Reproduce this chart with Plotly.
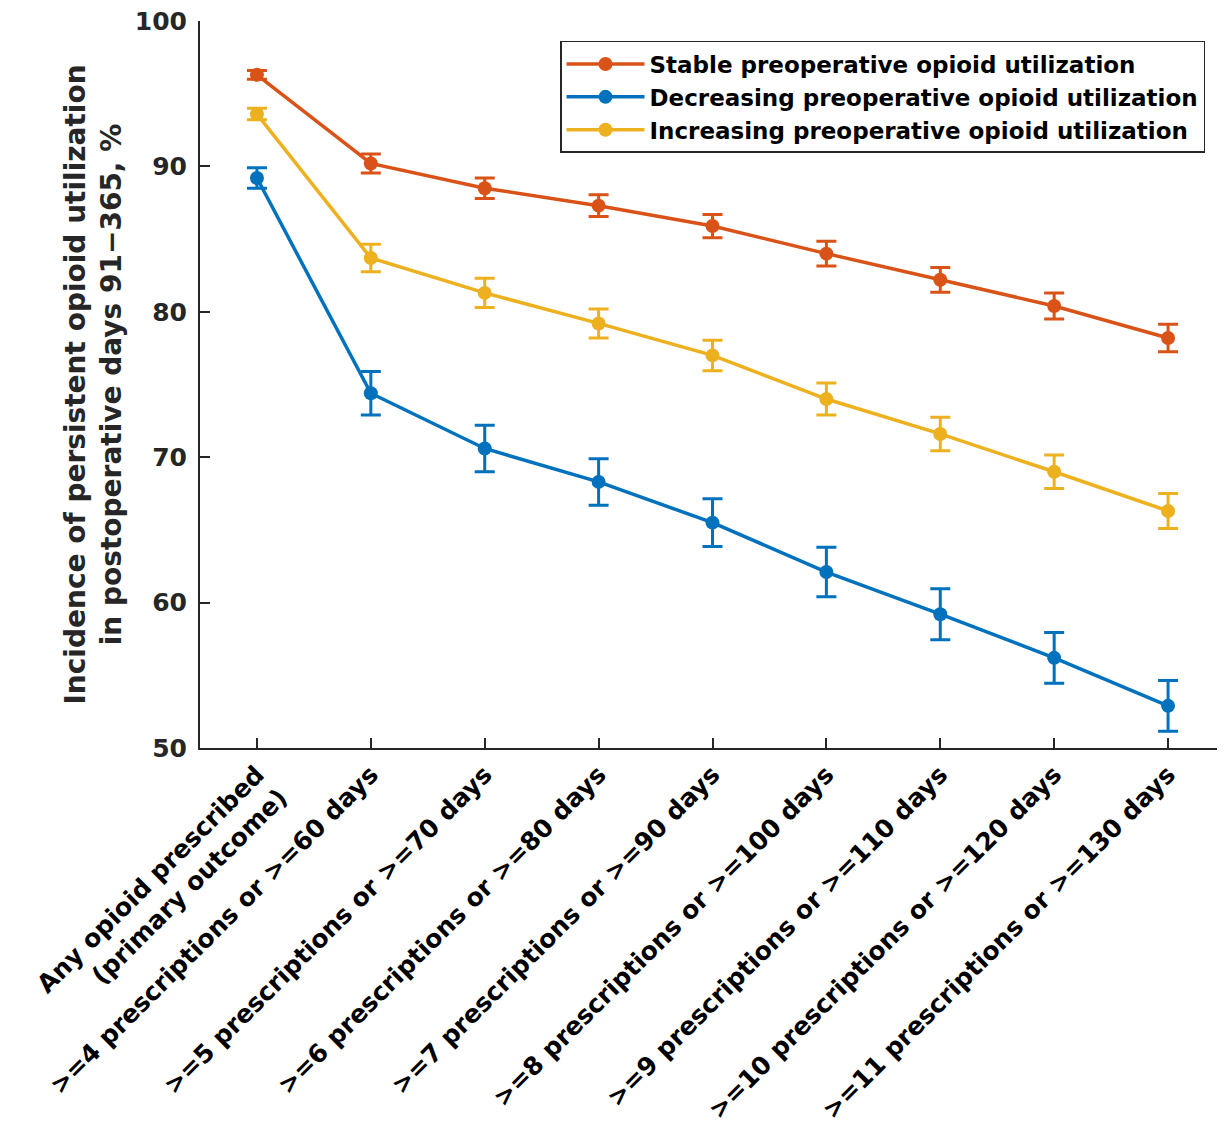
import plotly.graph_objects as go

categories = [
    "Any opioid prescribed<br>(primary outcome)",
    ">=4 prescriptions or >=60 days",
    ">=5 prescriptions or >=70 days",
    ">=6 prescriptions or >=80 days",
    ">=7 prescriptions or >=90 days",
    ">=8 prescriptions or >=100 days",
    ">=9 prescriptions or >=110 days",
    ">=10 prescriptions or >=120 days",
    ">=11 prescriptions or >=130 days",
]

stable = [96.3, 90.2, 88.5, 87.3, 85.9, 84.0, 82.2, 80.4, 78.2]
stable_err = [0.3, 0.65, 0.7, 0.75, 0.8, 0.85, 0.85, 0.9, 0.95]

decreasing = [89.2, 74.4, 70.6, 68.3, 65.5, 62.1, 59.2, 56.2, 52.9]
decreasing_err = [0.7, 1.5, 1.6, 1.6, 1.65, 1.7, 1.75, 1.75, 1.75]

increasing = [93.6, 83.7, 81.3, 79.2, 77.0, 74.0, 71.6, 69.0, 66.3]
increasing_err = [0.4, 0.95, 1.0, 1.0, 1.05, 1.1, 1.15, 1.15, 1.2]

series = [
    ("Stable preoperative opioid utilization", stable, stable_err, "#D95319"),
    ("Decreasing preoperative opioid utilization", decreasing, decreasing_err, "#0072BD"),
    ("Increasing preoperative opioid utilization", increasing, increasing_err, "#EDB120"),
]

FONT = "DejaVu Sans"
TXT = "#262626"

fig = go.Figure()
xs = list(range(len(categories)))
for name, vals, err, col in series:
    fig.add_trace(go.Scatter(
        x=xs, y=vals, name=name, mode="lines+markers",
        line=dict(color=col, width=3.5),
        marker=dict(color=col, size=14),
        error_y=dict(type="data", array=err, visible=True, color=col,
                     thickness=3, width=10),
    ))

fig.update_layout(
    width=1217, height=1124,
    margin=dict(l=192, r=0, t=13, b=384),
    plot_bgcolor="white", paper_bgcolor="white",
    font=dict(family=FONT, color=TXT),
    showlegend=True,
    legend=dict(
        x=0.9805, y=0.9725, xanchor="right", yanchor="top",
        bgcolor="white", bordercolor="#262626", borderwidth=1.5,
        font=dict(family=FONT, size=23, color="black", weight="bold"),
        itemwidth=78, tracegroupgap=0,
    ),
)

fig.update_xaxes(
    range=[-0.5, 8.5],
    tickmode="array", tickvals=xs, ticktext=categories,
    tickangle=-45, automargin=False, ticklabeloverflow="allow",
    ticks="inside", ticklen=10, tickwidth=1.5, tickcolor=TXT,
    showline=True, linecolor=TXT, linewidth=2,
    showgrid=False, zeroline=False,
    tickfont=dict(family=FONT, size=25, color="black", weight="bold"),
)

fig.update_yaxes(
    range=[50, 100], automargin=False, ticklabeloverflow="allow",
    tickvals=[50, 60, 70, 80, 90, 100],
    ticks="inside", ticklen=10, tickwidth=1.5, tickcolor=TXT,
    ticklabelstandoff=6,
    showline=True, linecolor=TXT, linewidth=2,
    showgrid=False, zeroline=False,
    tickfont=dict(family=FONT, size=25, color=TXT, weight="bold"),
    title=dict(
        text="Incidence of persistent opioid utilization<br>in postoperative days 91\u2212365, %",
        font=dict(family=FONT, size=28, color=TXT, weight="bold"),
        standoff=5,
    ),
)

fig.write_html("out.html")
